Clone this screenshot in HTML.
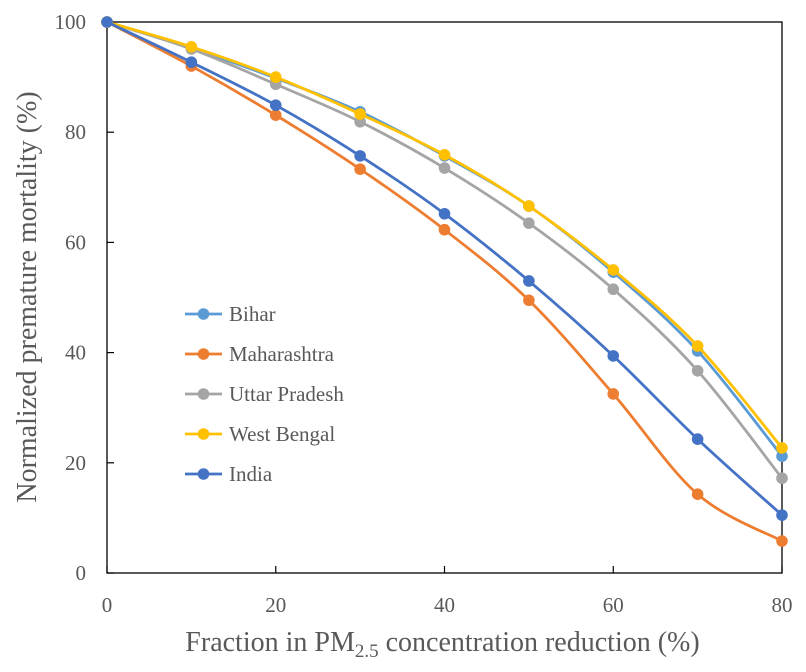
<!DOCTYPE html>
<html><head><meta charset="utf-8"><style>
body{margin:0;background:#fff;}
svg{display:block;font-family:"Liberation Serif",serif;}
</style></head><body>
<svg id="chart" width="806" height="672">
<g id="axes"></g><g id="series"></g><g id="legend"></g>
</svg>
<script>
const xValues = [0,10,20,30,40,50,60,70,80];
const bihar = [100,95.3,89.8,83.7,75.7,66.6,54.6,40.3,21.2];
const maharashtra = [100,92.0,83.1,73.3,62.3,49.5,32.5,14.3,5.8];
const uttarPradesh = [100,95.1,88.7,81.9,73.5,63.5,51.5,36.7,17.2];
const westBengal = [100,95.5,90.0,83.3,75.9,66.6,55.0,41.2,22.7];
const india = [100,92.7,84.9,75.7,65.2,53.0,39.4,24.3,10.5];
const seriesNames = ["Bihar","Maharashtra","Uttar Pradesh","West Bengal","India"];
const xTicks = [0,20,40,60,80];
const yTicks = [0,20,40,60,80,100];

const colors = ["#5B9BD5","#ED7D31","#A5A5A5","#FFC000","#4472C4"];
const allSeries = [bihar,maharashtra,uttarPradesh,westBengal,india];
const X0=107,X1=782,Y0=573,Y1=22;
const sx=v=>X0+(v-0)/80*(X1-X0);
const sy=v=>Y0-(v/100)*(Y0-Y1);
const NS="http://www.w3.org/2000/svg";
const TXT="#595959";
function mk(tag,attrs,parent){const e=document.createElementNS(NS,tag);for(const k in attrs)e.setAttribute(k,attrs[k]);parent.appendChild(e);return e;}
const axes=document.getElementById('axes'),sg=document.getElementById('series'),lg=document.getElementById('legend');

let frame=mk('rect',{x:X0,y:Y1,width:X1-X0,height:Y0-Y1,fill:'none',stroke:'#000','stroke-width':1.3},axes);


xTicks.forEach(t=>{
  const l=mk('line',{x1:sx(t),x2:sx(t),y1:Y0,y2:Y0-7,stroke:'#000','stroke-width':1.2},axes);
  
  
  const tx=mk('text',{x:sx(t),y:Y0+39,'text-anchor':'middle','font-size':21,fill:TXT},axes);
  tx.textContent=t;
  
  
});
yTicks.forEach(t=>{
  const l=mk('line',{x1:X0,x2:X0+7,y1:sy(t),y2:sy(t),stroke:'#000','stroke-width':1.2},axes);
  
  
  const tx=mk('text',{x:86,y:sy(t)+7,'text-anchor':'end','font-size':21,fill:TXT},axes);
  tx.textContent=t;
  
  
});
const xt=mk('text',{x:(X0+X1)/2-2,y:651,'text-anchor':'middle','font-size':28,fill:TXT},axes);
xt.innerHTML='Fraction in PM<tspan font-size="19" dy="6">2.5</tspan><tspan dy="-6"> concentration reduction (%)</tspan>';


const yt=mk('text',{x:0,y:0,'text-anchor':'middle','font-size':28,fill:TXT,transform:'translate(36,297) rotate(-90)'},axes);
yt.textContent='Normalized premature mortality (%)';



function smooth(pts){
  let d=`M${pts[0][0]},${pts[0][1]}`;
  for(let i=0;i<pts.length-1;i++){
    const p0=pts[i-1]||pts[i],p1=pts[i],p2=pts[i+1],p3=pts[i+2]||p2;
    const c1=[p1[0]+(p2[0]-p0[0])/6,p1[1]+(p2[1]-p0[1])/6];
    const c2=[p2[0]-(p3[0]-p1[0])/6,p2[1]-(p3[1]-p1[1])/6];
    d+=` C${c1[0]},${c1[1]} ${c2[0]},${c2[1]} ${p2[0]},${p2[1]}`;
  }
  return d;
}
allSeries.forEach((s,i)=>{
  const g=mk('g',{},sg);
  
  
  const pts=s.map((v,j)=>[sx(xValues[j]),sy(v)]);
  const p=mk('path',{d:smooth(pts),fill:'none',stroke:colors[i],'stroke-width':2.8},g);
  
  
  pts.forEach(pt=>{
    const c=mk('circle',{cx:pt[0],cy:pt[1],r:5.8,fill:colors[i]},g);
    
    
  });
});
seriesNames.forEach((n,i)=>{
  const y=314+i*40;
  const g=mk('g',{},lg);
  
  
  mk('line',{x1:185,x2:222,y1:y,y2:y,stroke:colors[i],'stroke-width':2.8},g);
  mk('circle',{cx:203.5,cy:y,r:5.8,fill:colors[i]},g);
  const t=mk('text',{x:229,y:y+7,'font-size':21,fill:TXT},g);
  t.textContent=n;
});
</script>
</body></html>
